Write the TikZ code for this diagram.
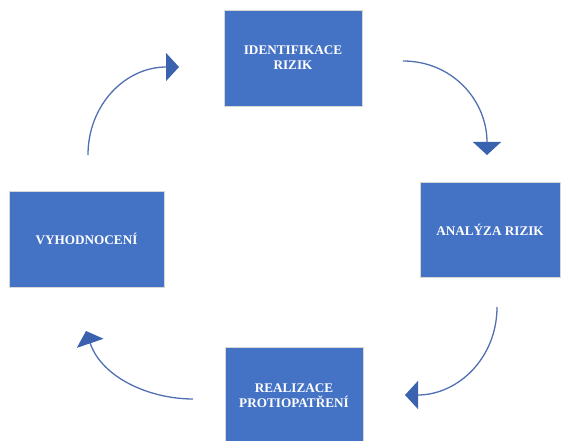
\documentclass[tikz,border=0pt]{standalone}
\usepackage{fontspec}
\setmainfont{Liberation Serif}
\usetikzlibrary{arrows.meta}
\definecolor{boxblue}{RGB}{68,114,196}
\definecolor{arrowline}{RGB}{80,112,178}
\definecolor{arrowhead}{RGB}{58,98,174}
\definecolor{boxedge}{RGB}{215,215,215}
\tikzset{
  box/.style={rectangle, fill=boxblue, draw=boxedge, line width=0.6pt,
    text=white, font=\bfseries\fontsize{13.2}{14.8}\selectfont, align=center, inner sep=0pt},
  cyc/.style={draw=arrowline, line width=1.3pt,
    -{Triangle[width=28pt,length=13pt,color=arrowhead,fill=arrowhead]}}
}
\begin{document}
\begin{tikzpicture}[x=1pt,y=-1pt]
\useasboundingbox (0,0) rectangle (570,441);
\node[box, minimum width=138pt, minimum height=96pt] (ident) at (293,58) {IDENTIFIKACE\\RIZIK};
\node[box, minimum width=140pt, minimum height=95pt] (anal) at (490,229.5) {ANALÝZA RIZIK};
\node[box, minimum width=155pt, minimum height=96pt] (vyhod) at (86.5,239) {VYHODNOCENÍ};
\node[box, minimum width=138pt, minimum height=98pt] (real) at (294,396) {REALIZACE\\PROTIOPATŘENÍ};
\coordinate (a1s) at (88,155);  \coordinate (a1e) at (179,67);
\coordinate (a2s) at (403,61);  \coordinate (a2e) at (487,155);
\coordinate (a3s) at (497,307); \coordinate (a3e) at (405,395);
\coordinate (a4s) at (193,399); \coordinate (a4e) at (86,331);
\draw[cyc] (a1s) .. controls (88,105) and (125,67) .. (a1e);
\draw[cyc] (a2s) .. controls (452,61) and (487,100) .. (a2e);
\draw[cyc] (a3s) .. controls (497,358) and (458,395) .. (a3e);
\draw[cyc] (a4s) .. controls (150,399) and (102,378) .. (a4e);
\end{tikzpicture}
\end{document}
